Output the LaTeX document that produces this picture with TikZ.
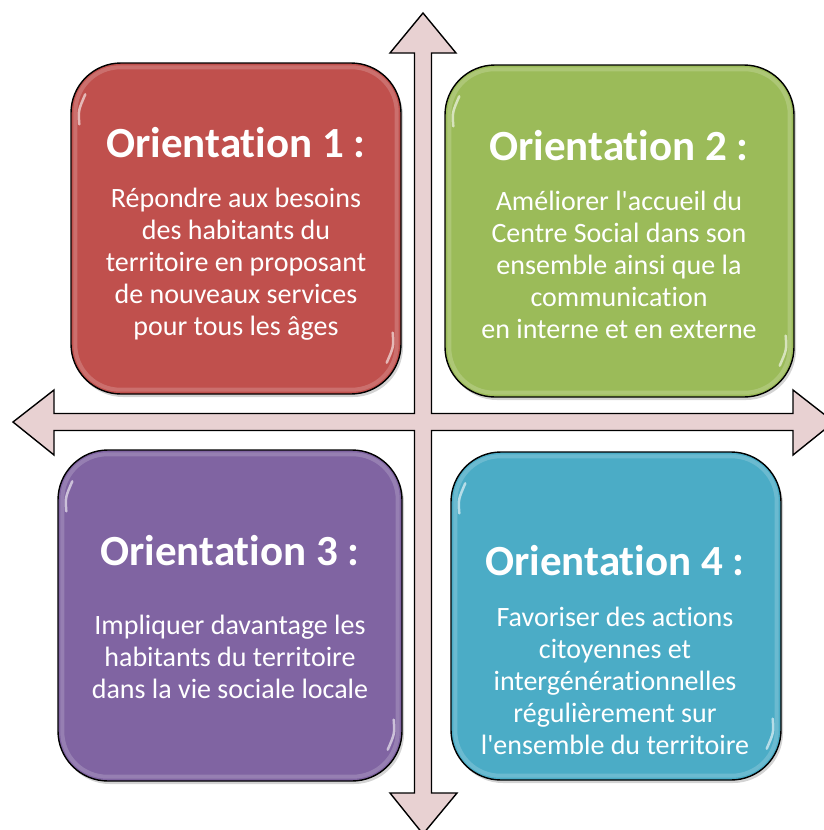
\documentclass[tikz,border=0pt]{standalone}
\usepackage{fontspec}
\setmainfont{Carlito}[Ligatures={TeXOff,NoCommon}]
\usetikzlibrary{shadows,calc}
\definecolor{oone}{HTML}{C0504D}
\definecolor{otwo}{HTML}{9BBB59}
\definecolor{othree}{HTML}{8064A2}
\definecolor{ofour}{HTML}{4BACC6}
\definecolor{crossfill}{HTML}{E8D1D2}
\newcommand\glossbox[1]{%
  \draw[white, opacity=0.18, line width=4pt, rounded corners=45pt]
    ($(#1.north west)+(5,5)$) rectangle ($(#1.south east)+(-5,-5)$);
  \draw[white, opacity=0.6, line width=2.5pt, line cap=round]
    ($(#1.north west)+(9,62)$) .. controls ($(#1.north west)+(8,48)$) .. ($(#1.north west)+(15,32)$);
  \draw[white, opacity=0.6, line width=2.5pt, line cap=round]
    ($(#1.south east)+(-9,-62)$) .. controls ($(#1.south east)+(-8,-48)$) .. ($(#1.south east)+(-15,-32)$);
}
\begin{document}
\begin{tikzpicture}[x=1pt,y=-1pt,
  card/.style={draw=black, line width=1.4pt, rounded corners=50pt, inner sep=0pt,
    drop shadow={opacity=0.35, shadow xshift=2pt, shadow yshift=-3pt}},
  ttl/.style={text=white, inner sep=0pt, font=\bfseries\fontsize{43}{50}\selectfont},
  bdy/.style={text=white, align=center, inner sep=0pt, font=\fontsize{28}{32}\selectfont},
  crossarrow/.style={draw=black, line width=1.4pt, fill=crossfill, line join=miter}]
\useasboundingbox (0,0) rectangle (823,830);
% cross of arrows
\draw[crossarrow] (423,13) -- (456,53) -- (431.5,53) -- (431.5,413.5) -- (793,413.5)
  -- (793,390) -- (834,422) -- (793,455) -- (793,430.5) -- (431.5,430.5) -- (431.5,793)
  -- (457,793) -- (423,834) -- (390,793) -- (414.5,793) -- (414.5,430.5) -- (54,430.5)
  -- (54,455) -- (13,422) -- (54,390) -- (54,413.5) -- (414.5,413.5) -- (414.5,53)
  -- (390,53) -- cycle;
% boxes
\node[card, fill=oone, minimum width=330pt, minimum height=331pt] (b1) at (236,228.5) {};
\node[card, fill=otwo, minimum width=349pt, minimum height=332pt] (b2) at (619.5,231) {};
\node[card, fill=othree, minimum width=344pt, minimum height=331pt] (b3) at (230,615.5) {};
\node[card, fill=ofour, minimum width=330pt, minimum height=328pt] (b4) at (616,616) {};
\glossbox{b1}\glossbox{b2}\glossbox{b3}\glossbox{b4}
% texts
\node[ttl] (t1) at (236,143) {Orientation 1 :};
\node[bdy] (d1) at (236,264) {Répondre aux besoins\\des habitants du\\territoire en proposant\\de nouveaux services\\pour tous les âges};
\node[ttl] (t2) at (619,146) {Orientation 2 :};
\node[bdy] (d2) at (619,265) {Améliorer l'accueil du\\Centre Social dans son\\ensemble ainsi que la\\communication\\en interne et en externe};
\node[ttl] (t3) at (230,551) {Orientation 3 :};
\node[bdy] (d3) at (230,657) {Impliquer davantage les\\habitants du territoire\\dans la vie sociale locale};
\node[ttl] (t4) at (615,561) {Orientation 4 :};
\node[bdy] (d4) at (615,681) {Favoriser des actions\\citoyennes et\\intergénérationnelles\\régulièrement sur\\l'ensemble du territoire};
\end{tikzpicture}
\end{document}
